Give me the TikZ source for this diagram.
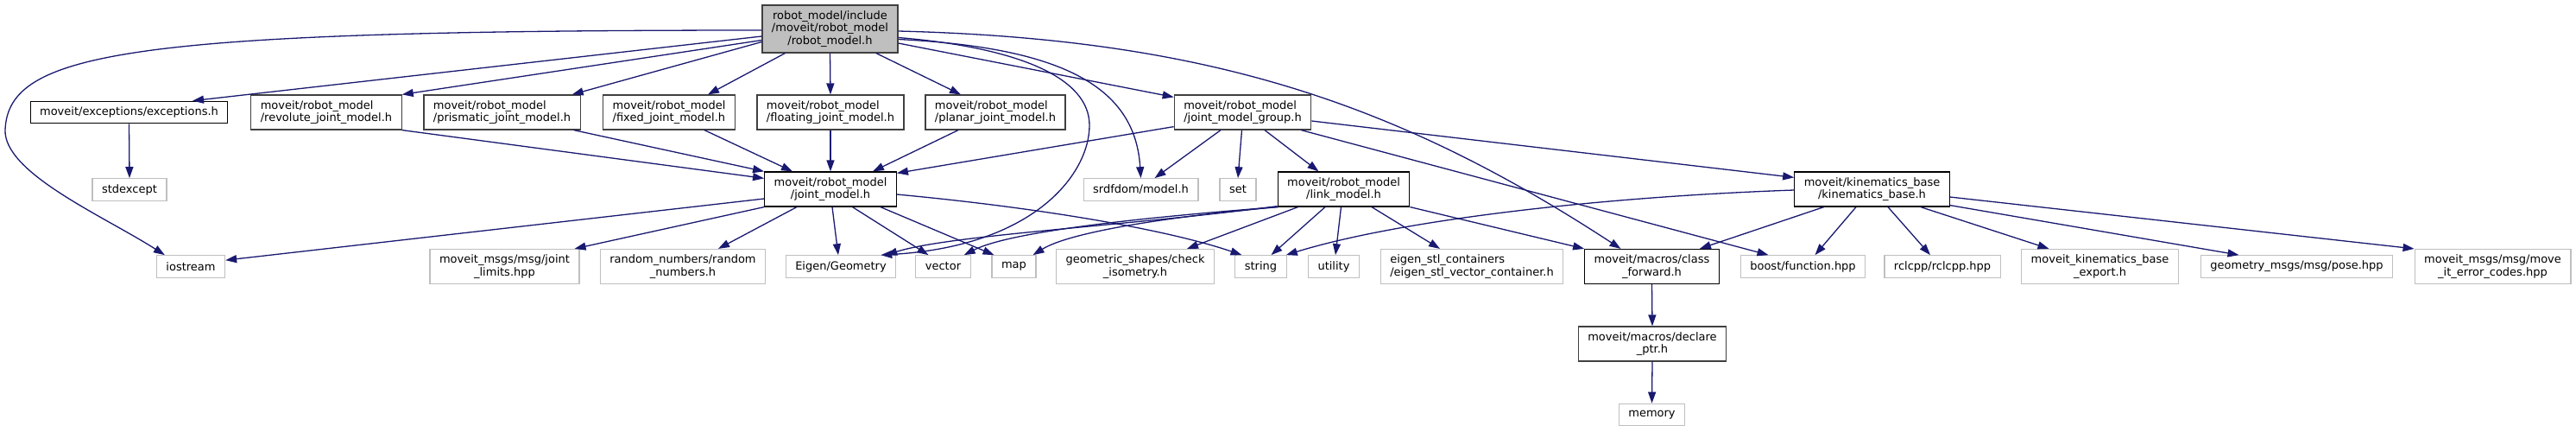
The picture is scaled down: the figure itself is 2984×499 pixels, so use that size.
\documentclass[tikz,border=0pt]{standalone}
\usepackage{fontspec}
\setmainfont{DejaVu Sans}
\usepackage{tikz}
\usetikzlibrary{arrows.meta,calc}
\definecolor{incblue}{HTML}{191970}
\definecolor{incfill}{HTML}{BFBFBF}
\definecolor{incdark}{HTML}{404040}
\definecolor{inclight}{HTML}{BFBFBF}

\begin{document}
\begin{tikzpicture}[
    x=1pt,
    y=-1pt,
    font=\fontsize{13}{14.5}\selectfont,
    hdr/.style={rectangle, draw=black, line width=1.2pt, fill=white, inner xsep=11pt, inner ysep=2pt, align=center},
    hdrg/.style={hdr, draw=incdark},
    sys/.style={hdr, draw=inclight},
    one/.style={minimum height=25.5pt},
    two/.style={minimum height=40pt},
    three/.style={minimum height=55pt},
    dep/.style={-{Triangle[length=13pt,width=9pt]}, line width=1.3pt, draw=incblue}
  ]
    \useasboundingbox (0,0) rectangle (2984,499);

    \node[hdrg, three, fill=incfill] (rm) at (961.5,33.5) {robot\_model/include\\/moveit/robot\_model\\/robot\_model.h};

    \node[hdr, one] (exc) at (149.5,130) {moveit/exceptions/exceptions.h};
    \node[hdrg, two, align=left] (rev) at (378,130) {moveit/robot\_model\\/revolute\_joint\_model.h};
    \node[hdrg, two, align=left] (pri) at (581.5,130) {moveit/robot\_model\\/prismatic\_joint\_model.h};
    \node[hdrg, two, align=left] (fix) at (775,130) {moveit/robot\_model\\/fixed\_joint\_model.h};
    \node[hdrg, two, align=left] (flo) at (962,130) {moveit/robot\_model\\/floating\_joint\_model.h};
    \node[hdrg, two, align=left] (pla) at (1153,130) {moveit/robot\_model\\/planar\_joint\_model.h};
    \node[hdrg, two, align=left] (jmg) at (1439.5,130) {moveit/robot\_model\\/joint\_model\_group.h};

    \node[sys, one] (std) at (150,219.5) {stdexcept};
    \node[hdr, two] (jm) at (962,219) {moveit/robot\_model\\/joint\_model.h};
    \node[sys, one] (srd) at (1321.5,219.5) {srdfdom/model.h};
    \node[sys, one] (set) at (1434,219.5) {set};
    \node[hdr, two] (lm) at (1556.5,219) {moveit/robot\_model\\/link\_model.h};
    \node[hdr, two] (kb) at (2168.5,219) {moveit/kinematics\_base\\/kinematics\_base.h};

    \node[sys, one] (ios) at (221,308.5) {iostream};
    \node[sys, two] (lim) at (584.5,308.5) {moveit\_msgs/msg/joint\\\_limits.hpp};
    \node[sys, two] (rnd) at (791,308.5) {random\_numbers/random\\\_numbers.h};
    \node[sys, one] (eig) at (974,308.5) {Eigen/Geometry};
    \node[sys, one] (vec) at (1092.5,308.5) {vector};
    \node[sys, one] (map) at (1174.5,308.5) {map};
    \node[sys, two] (geo) at (1315,308.5) {geometric\_shapes/check\\\_isometry.h};
    \node[sys, one] (str) at (1460.5,308.5) {string};
    \node[sys, one] (uti) at (1545,308.5) {utility};
    \node[sys, two, align=left] (esc) at (1705,308.5) {eigen\_stl\_containers\\/eigen\_stl\_vector\_container.h};
    \node[hdr, two] (cfw) at (1913.5,308.5) {moveit/macros/class\\\_forward.h};
    \node[sys, one] (bst) at (2088.5,308.5) {boost/function.hpp};
    \node[sys, one] (rcl) at (2250,308.5) {rclcpp/rclcpp.hpp};
    \node[sys, two] (exp) at (2432.5,308.5) {moveit\_kinematics\_base\\\_export.h};
    \node[sys, one] (pos) at (2660.5,308.5) {geometry\_msgs/msg/pose.hpp};
    \node[sys, two] (err) at (2887.5,308.5) {moveit\_msgs/msg/move\\\_it\_error\_codes.hpp};

    \node[hdrg, two] (dcl) at (1914,398) {moveit/macros/declare\\\_ptr.h};
    \node[sys, one] (mem) at (1913.5,480) {memory};

    \draw[dep] ($(rm.west)+(0,1.5)$) .. controls (150,35) and (10,60) .. (6,150) .. controls (3.8,200) and (120,250) .. ($(ios.north west)+(10,0)$);
    \draw[dep] ($(rm.west)+(0,8.5)$) -- ($(exc.north)+(73.5,0)$);
    \draw[dep] ($(rm.west)+(0,13)$) -- (rev.north east);
    \draw[dep] ($(rm.west)+(0,15)$) -- ($(pri.north east)+(-10,0)$);
    \draw[dep] ($(rm.south west)+(27,0)$) -- ($(fix.north)+(45,0)$);
    \draw[dep] (rm.south) -- (flo.north);
    \draw[dep] ($(rm.south)+(53.5,0)$) -- ($(pla.north)+(-40,0)$);
    \draw[dep] ($(rm.east)+(0,16.5)$) -- ($(jmg.north west)+(0,3)$);
    \draw[dep] ($(rm.east)+(0,12)$) .. controls (1230,55) and (1315,100) .. (srd.north);
    \draw[dep] ($(rm.east)+(0,10)$) .. controls (1180,55) and (1262,90) .. (1262,145) .. controls (1262,200) and (1200,285) .. ($(eig.north east)+(-18,0)$);
    \draw[dep] ($(rm.east)+(0,2.5)$) .. controls (1400,45) and (1620,120) .. ($(cfw.north)+(-36,0)$);

    \draw[dep] (exc.south) -- (std.north);
    \draw[dep] (rev.south east) -- ($(jm.north west)+(0,8)$);
    \draw[dep] ($(pri.south east)+(-8,0)$) -- (jm.north west);
    \draw[dep] ($(fix.south)+(41,0)$) -- ($(jm.north)+(-44,0)$);
    \draw[dep] (flo.south) -- (jm.north);
    \draw[dep] ($(pla.south)+(-43,0)$) -- ($(jm.north east)+(-28,0)$);

    \draw[dep] ($(jmg.south west)+(0,-4)$) -- ($(jm.north east)+(0,2)$);
    \draw[dep] ($(jmg.south)+(-25.5,0)$) -- ($(srd.north)+(16,0)$);
    \draw[dep] ($(jmg.south)+(-1,0)$) -- (set.north);
    \draw[dep] ($(jmg.south)+(25.5,0)$) -- ($(lm.north)+(-29,0)$);
    \draw[dep] ($(jmg.east)+(0,10)$) -- ($(kb.north west)+(0,7)$);
    \draw[dep] ($(jmg.south east)+(-12,0)$) -- ($(bst.north)+(-40,0)$);

    \draw[dep] ($(jm.west)+(0,11)$) -- ($(ios.north east)+(0,6)$);
    \draw[dep] (jm.south west) -- ($(lim.north east)+(-6,0)$);
    \draw[dep] ($(jm.south)+(-39,0)$) -- ($(rnd.north)+(41,0)$);
    \draw[dep] ($(jm.south)+(2,0)$) -- ($(eig.north)+(-3,0)$);
    \draw[dep] ($(jm.south)+(25.5,0)$) -- ($(vec.north)+(-17,0)$);
    \draw[dep] ($(jm.south east)+(-19,0)$) -- ($(map.north)+(-23,0)$);
    \draw[dep] ($(jm.east)+(0,6)$) .. controls (1200,240) and (1350,265) .. ($(str.north)+(-22,0)$);

    \draw[dep] ($(lm.south west)+(0,-1)$) .. controls (1300,262) and (1100,272) .. ($(eig.north east)+(-12,0)$);
    \draw[dep] (lm.south west) .. controls (1320,252) and (1170,268) .. ($(vec.north east)+(-8,0)$);
    \draw[dep] ($(lm.south west)+(1,0)$) .. controls (1360,250) and (1240,268) .. ($(map.north east)+(-4,0)$);
    \draw[dep] ($(lm.south west)+(24,0)$) -- ($(geo.north)+(60,0)$);
    \draw[dep] ($(lm.south)+(-21.5,0)$) -- ($(str.north)+(12,0)$);
    \draw[dep] ($(lm.south)+(-3,0)$) -- ($(uti.north)+(2,0)$);
    \draw[dep] ($(lm.south)+(32.5,0)$) -- ($(esc.north)+(-37,0)$);
    \draw[dep] (lm.south east) -- (cfw.north west);

    \draw[dep] ($(kb.west)+(0,1)$) .. controls (1850,228) and (1620,255) .. ($(str.north east)+(-1,0)$);
    \draw[dep] ($(kb.south west)+(34.5,0)$) -- ($(cfw.north east)+(-23,0)$);
    \draw[dep] ($(kb.south)+(-18.5,0)$) -- ($(bst.north)+(14,0)$);
    \draw[dep] ($(kb.south)+(18.5,0)$) -- ($(rcl.north)+(-14,0)$);
    \draw[dep] ($(kb.south east)+(-34,0)$) -- ($(exp.north)+(-59,0)$);
    \draw[dep] ($(kb.south east)+(0,-2)$) -- ($(pos.north)+(-67,0)$);
    \draw[dep] ($(kb.east)+(0,9)$) -- (err.north west);

    \draw[dep] (cfw.south) -- (dcl.north);
    \draw[dep] (dcl.south) -- (mem.north);
  \end{tikzpicture}
\end{document}
